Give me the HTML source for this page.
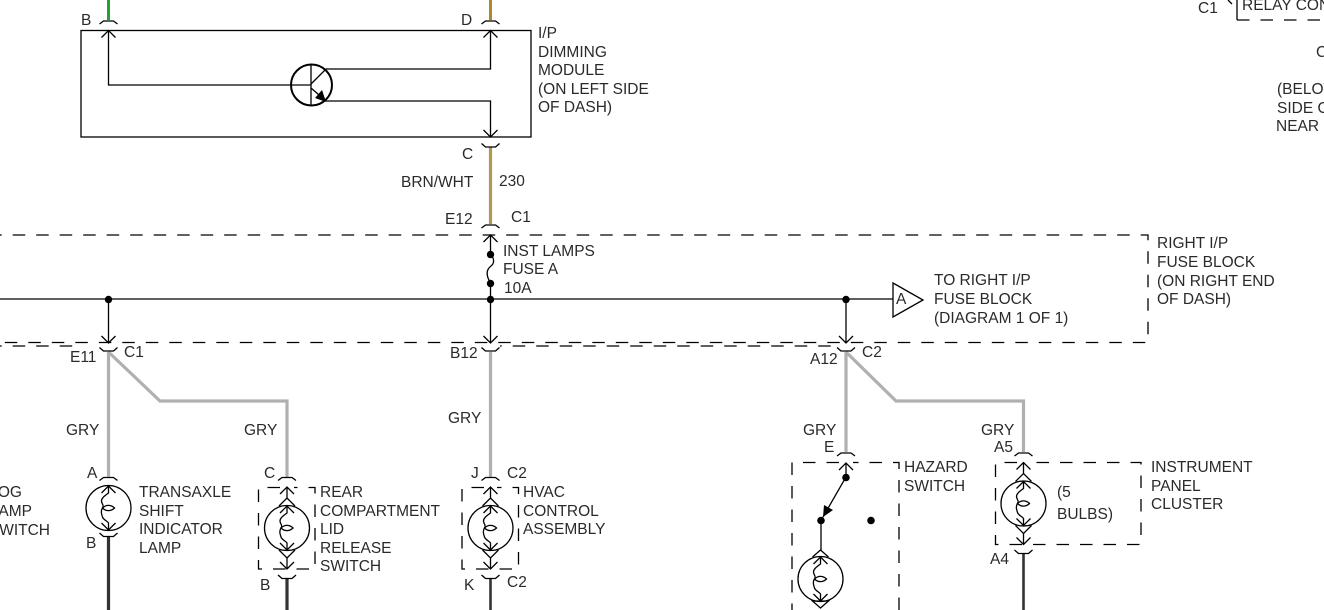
<!DOCTYPE html>
<html>
<head>
<meta charset="utf-8">
<style>
html,body{margin:0;padding:0;background:#fff;width:1324px;height:610px;overflow:hidden}
svg{display:block}
text{font-family:"Liberation Sans",sans-serif;font-size:15.5px;fill:#2a2a2a}
.l{fill:none;stroke:#000;stroke-width:1.3}
.t{fill:none;stroke:#000;stroke-width:1.3;stroke-dasharray:12.5 11;stroke-dashoffset:10.8}
.g{fill:none;stroke:#b0b0b0;stroke-width:3.2}
.d{fill:none;stroke:#333;stroke-width:3.2}
</style>
</head>
<body>
<svg width="1324" height="610" viewBox="0 0 1324 610" xmlns="http://www.w3.org/2000/svg">
<defs>
<path id="capT" class="l" d="M-9,4 L-5,1 H5 L9,4"/>
<path id="capB" class="l" d="M-9,0 L-5,3.5 H5 L9,0"/>
<path id="up" class="l" d="M-7,7 L0,0 L7,7"/>
<path id="dn" class="l" d="M-7,-7 L0,0 L7,-7"/>
<g id="lamp">
<circle class="l" r="22.5"/>
<path class="l" d="M-7,-15 L0,-22 L7,-15 M-7,15 L0,22 L7,15"/>
<path class="l" d="M0,-22 V-15 C-4,-12 -7,-10 -7,-7 C-7,-4 -4,-3 -6,0 C-8,3 -7,6 -6,9 C-5,12 -1,13 0,15 V22"/>
<path class="l" d="M-6,0 C-2,-4 3,-3 6,0 C3,3 -2,4 -6,0 Z"/>
</g>
<g id="lampT">
<use href="#lamp"/>
<path class="l" d="M-8,-22 L0,-30 L8,-22 M-8,22 L0,30 L8,22 M0,-30 V-41 M0,30 V41"/>
<path class="l" d="M-7,-34 L0,-41 L7,-34 M-7,34 L0,41 L7,34"/>
</g>
<clipPath id="pg"><rect width="1324" height="610"/></clipPath>
</defs>
<g clip-path="url(#pg)">

<!-- coloured wires -->
<path d="M108.5,0 V20" fill="none" stroke="#1fa52d" stroke-width="3"/>
<path d="M490.5,0 V20" fill="none" stroke="#ae8a22" stroke-width="3"/>
<path d="M490.5,147 V224" fill="none" stroke="#ae9a50" stroke-width="3.2"/>

<path class="g" d="M108.5,352 V477 M108.5,352 L160,401 H287 V477"/>
<path class="g" d="M490.5,352 V477"/>
<path class="g" d="M846,352 V452 M846,352 L896,401 H1023.5 V452"/>

<path class="d" d="M108.5,537 V610 M287,579 V610"/>
<path class="d" d="M490.5,579 V610" style="stroke-width:2.6"/>
<path class="d" d="M1023.5,554 V610" style="stroke-width:2.6"/>

<!-- dimming module -->
<rect class="l" x="81" y="30.5" width="450" height="106.5"/>
<use href="#capT" x="108.5" y="20"/>
<use href="#capT" x="490.5" y="20"/>
<use href="#up" x="108.5" y="30.5"/>
<use href="#up" x="490.5" y="30.5"/>
<use href="#dn" x="490.5" y="137"/>
<use href="#capB" x="490.5" y="143.5"/>
<path class="l" d="M108.5,30.5 V85 H311"/>
<path class="l" d="M490.5,30.5 V69 H326 L311,84"/>
<path class="l" d="M490.5,137 V101 H326"/>
<path class="l" d="M311,64 V106 M311,88 L326,101"/>
<circle cx="311.5" cy="85" r="20.5" fill="none" stroke="#000" stroke-width="2"/>
<path d="M326,102 L315,98 L322,90 Z" fill="#000"/>

<!-- fuse block -->
<path class="t" d="M0,235 H1148 V342.5 H0"/>
<path class="t" d="M0,346 H76 M500,346 H840"/>
<use href="#capT" x="490.5" y="224"/>
<use href="#up" x="490.5" y="235"/>
<path class="l" d="M490.5,235 V254"/>
<path class="l" d="M490.5,254 C494,258 495,263 491,266 C487,269 485,274 490.5,283"/>
<path class="l" d="M0,299 H893"/>
<path class="l" d="M108.5,299 V343 M490.5,283 V343 M846,299 V343"/>
<circle cx="490.5" cy="254.5" r="3.7"/>
<circle cx="490.5" cy="283.5" r="3.7"/>
<circle cx="490.5" cy="299.5" r="3.7"/>
<circle cx="108.5" cy="299.5" r="3.7"/>
<circle cx="846" cy="299.5" r="3.7"/>
<use href="#dn" x="108.5" y="343"/>
<use href="#dn" x="490.5" y="343"/>
<use href="#dn" x="846" y="343"/>
<use href="#capB" x="108.5" y="347.5"/>
<use href="#capB" x="490.5" y="347.5"/>
<use href="#capB" x="846" y="347.5"/>
<path class="l" d="M893,283 L923,300 L893,317 Z"/>

<!-- lamps -->
<use href="#capT" x="108.5" y="476.5"/>
<use href="#lamp" x="108.5" y="508"/>
<use href="#capB" x="108.5" y="533"/>

<use href="#capT" x="287" y="476.5"/>
<use href="#lampT" x="287" y="528"/>
<use href="#capB" x="287" y="575"/>
<path class="t" style="stroke-dashoffset:0" d="M280,487.5 H258.5 V569 H315 V487.5 H294"/>

<use href="#capT" x="490.5" y="476.5"/>
<use href="#lampT" x="490.5" y="528"/>
<use href="#capB" x="490.5" y="575"/>
<path class="t" style="stroke-dashoffset:0" d="M484,487.5 H462 V569 H518.5 V487.5 H497"/>

<use href="#capT" x="846" y="452"/>
<use href="#up" x="846" y="463"/>
<path class="t" style="stroke-dashoffset:0" d="M839,462.5 H792 V610 M899,610 V462.5 H853"/>
<path class="l" d="M846,463 V477 L823,517 M821,520 V550"/>
<circle cx="846" cy="477.5" r="3.8"/>
<circle cx="821" cy="520.5" r="3.8"/>
<circle cx="871" cy="520.5" r="3.8"/>
<path d="M823,517 L824,505 L833,510 Z" fill="#000"/>
<use href="#lamp" x="820.5" y="579"/>
<path class="l" d="M812.5,557 L820.5,550 L828.5,557 M812.5,601 L820.5,608 L828.5,601 Z"/>

<use href="#capT" x="1023.5" y="452"/>
<use href="#lampT" x="1023.5" y="503.5"/>
<use href="#capB" x="1023.5" y="550"/>
<path class="t" style="stroke-dashoffset:0" d="M1017,462.5 H995.5 V544.5 H1141 V462.5 H1030"/>

<!-- top right fragment -->
<path class="l" d="M1228,0 L1232,4"/>
<path class="l" d="M1237,0 V20"/>
<path class="t" style="stroke-dashoffset:0" d="M1237,20 H1324"/>

<!-- labels -->
<text x="81" y="25">B</text>
<text x="461" y="25">D</text>
<text x="538" y="38">I/P</text>
<text x="538" y="57">DIMMING</text>
<text x="538" y="75">MODULE</text>
<text x="538" y="94">(ON LEFT SIDE</text>
<text x="538" y="112">OF DASH)</text>
<text x="462" y="159">C</text>
<text x="401" y="187">BRN/WHT</text>
<text x="499" y="186">230</text>
<text x="445" y="224">E12</text>
<text x="511" y="222">C1</text>
<text x="503" y="256">INST LAMPS</text>
<text x="503" y="274">FUSE A</text>
<text x="504" y="293">10A</text>
<text x="1157" y="248">RIGHT I/P</text>
<text x="1157" y="267">FUSE BLOCK</text>
<text x="1157" y="286">(ON RIGHT END</text>
<text x="1157" y="304">OF DASH)</text>
<text x="896" y="304">A</text>
<text x="934" y="285">TO RIGHT I/P</text>
<text x="934" y="304">FUSE BLOCK</text>
<text x="934" y="323">(DIAGRAM 1 OF 1)</text>
<text x="70" y="362">E11</text>
<text x="124" y="357">C1</text>
<text x="450" y="358">B12</text>
<text x="810" y="364">A12</text>
<text x="862" y="357">C2</text>
<text x="66" y="435">GRY</text>
<text x="244" y="435">GRY</text>
<text x="448" y="423">GRY</text>
<text x="803" y="435">GRY</text>
<text x="981" y="435">GRY</text>
<text x="87" y="478">A</text>
<text x="264" y="478">C</text>
<text x="471" y="478">J</text>
<text x="507" y="478">C2</text>
<text x="824" y="452">E</text>
<text x="994" y="452">A5</text>
<text x="139" y="497">TRANSAXLE</text>
<text x="139" y="516">SHIFT</text>
<text x="139" y="534">INDICATOR</text>
<text x="139" y="553">LAMP</text>
<text x="86" y="548">B</text>
<text x="320" y="497">REAR</text>
<text x="320" y="516">COMPARTMENT</text>
<text x="320" y="534">LID</text>
<text x="320" y="553">RELEASE</text>
<text x="320" y="571">SWITCH</text>
<text x="260" y="590">B</text>
<text x="523" y="497">HVAC</text>
<text x="523" y="516">CONTROL</text>
<text x="523" y="534">ASSEMBLY</text>
<text x="464" y="590">K</text>
<text x="507" y="587">C2</text>
<text x="904" y="472">HAZARD</text>
<text x="904" y="491">SWITCH</text>
<text x="1057" y="497">(5</text>
<text x="1057" y="519">BULBS)</text>
<text x="1151" y="472">INSTRUMENT</text>
<text x="1151" y="491">PANEL</text>
<text x="1151" y="509">CLUSTER</text>
<text x="990" y="564">A4</text>
<text x="22" y="497" text-anchor="end">FOG</text>
<text x="32" y="516" text-anchor="end">LAMP</text>
<text x="50" y="535" text-anchor="end">SWITCH</text>
<text x="1198" y="13">C1</text>
<text x="1242" y="10">RELAY CONTROL</text>
<text x="1316" y="57">C</text>
<text x="1277" y="94">(BELOW</text>
<text x="1277" y="113">SIDE OF</text>
<text x="1276" y="131">NEAR</text>
</g>
</svg>
</body>
</html>
